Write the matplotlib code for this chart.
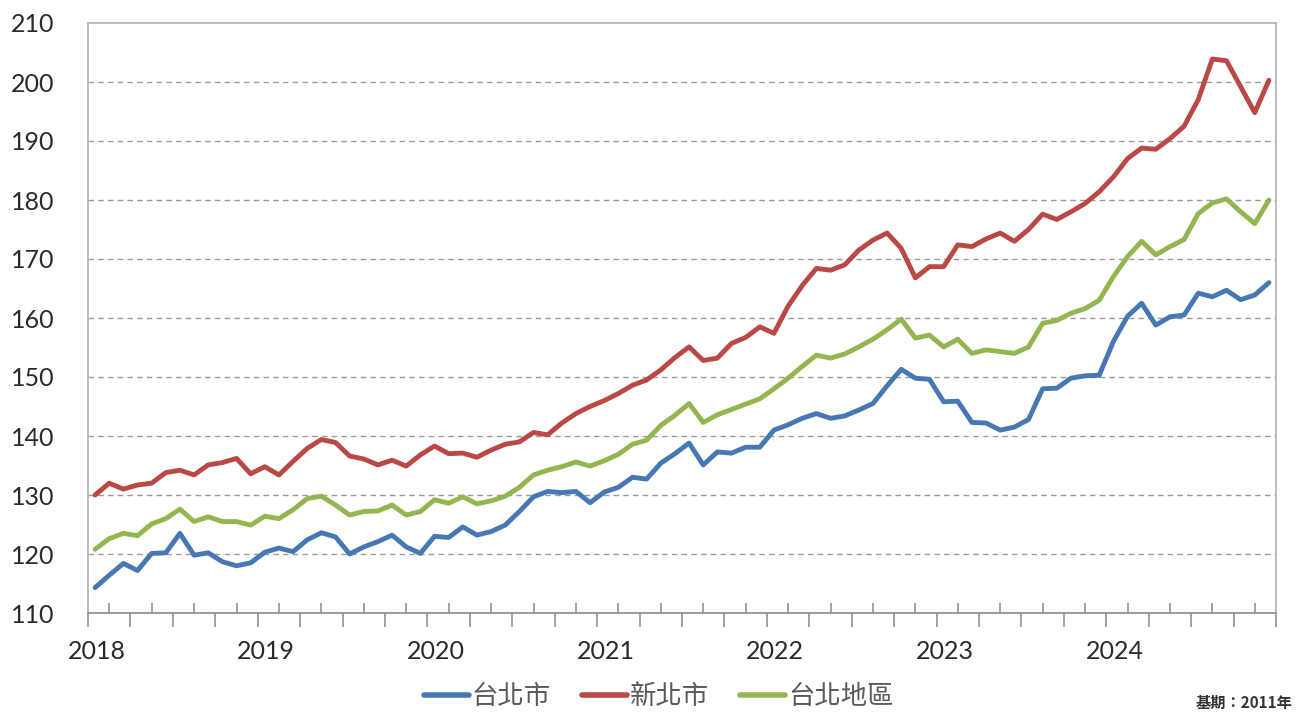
import matplotlib
matplotlib.use("Agg")
import matplotlib.pyplot as plt
import numpy as np

# ---- data (monthly index, 2018-01 .. 2024-12) ----
years = ["2018", "2019", "2020", "2021", "2022", "2023", "2024"]
series_names = ["台北市", "新北市", "台北地區"]

taipei = [114.3, 116.4, 118.4, 117.2, 120.1, 120.2, 123.5, 119.8, 120.2, 118.7, 118.0, 118.5,
          120.3, 121.0, 120.4, 122.4, 123.6, 122.9, 120.0, 121.2, 122.1, 123.2, 121.2, 120.1,
          123.0, 122.8, 124.6, 123.2, 123.8, 124.9, 127.2, 129.7, 130.6, 130.4, 130.6, 128.7,
          130.5, 131.3, 133.0, 132.7, 135.4, 137.0, 138.8, 135.1, 137.3, 137.1, 138.1, 138.1,
          141.0, 141.9, 143.0, 143.8, 143.0, 143.4, 144.4, 145.5, 148.5, 151.3, 149.8, 149.6,
          145.8, 145.9, 142.3, 142.2, 141.0, 141.5, 142.8, 148.0, 148.1, 149.8, 150.2, 150.3,
          156.0, 160.3, 162.5, 158.8, 160.2, 160.5, 164.2, 163.6, 164.7, 163.1, 163.9, 166.0]

new_taipei = [130.0, 132.0, 131.0, 131.7, 132.0, 133.8, 134.2, 133.4, 135.1, 135.5, 136.2, 133.6,
              134.8, 133.4, 135.7, 137.9, 139.4, 138.9, 136.6, 136.1, 135.1, 135.9, 134.9, 136.8,
              138.3, 137.0, 137.1, 136.4, 137.6, 138.6, 139.0, 140.6, 140.2, 142.2, 143.8, 145.0,
              146.0, 147.2, 148.6, 149.5, 151.2, 153.3, 155.1, 152.8, 153.2, 155.7, 156.7, 158.5,
              157.4, 162.0, 165.5, 168.4, 168.1, 169.0, 171.5, 173.2, 174.4, 171.8, 166.8, 168.7,
              168.7, 172.4, 172.1, 173.4, 174.4, 173.0, 175.0, 177.6, 176.7, 178.0, 179.4, 181.4,
              183.9, 187.0, 188.8, 188.6, 190.4, 192.5, 197.0, 203.9, 203.6, 199.2, 194.8, 200.3]

taipei_area = [120.8, 122.6, 123.5, 123.1, 125.1, 126.0, 127.6, 125.5, 126.3, 125.5, 125.5, 124.9,
               126.4, 126.0, 127.5, 129.4, 129.8, 128.3, 126.6, 127.2, 127.3, 128.3, 126.6, 127.2,
               129.2, 128.6, 129.7, 128.5, 129.0, 129.8, 131.3, 133.4, 134.2, 134.8, 135.6, 134.9,
               135.8, 136.9, 138.6, 139.3, 141.8, 143.5, 145.5, 142.3, 143.6, 144.5, 145.4, 146.3,
               148.0, 149.8, 151.8, 153.7, 153.2, 153.9, 155.1, 156.4, 158.0, 159.8, 156.6, 157.1,
               155.1, 156.4, 154.0, 154.6, 154.3, 154.0, 155.1, 159.1, 159.6, 160.8, 161.6, 163.0,
               167.0, 170.4, 173.0, 170.7, 172.1, 173.3, 177.7, 179.5, 180.2, 178.0, 176.0, 180.0]

colors = ["#4778B4", "#BA4946", "#94B650"]

# ---- figure ----
fig = plt.figure(figsize=(12.99, 7.17), dpi=100)
ax = fig.add_axes([88/1299, 1-613/717, (1276-88)/1299, (613-23)/717])

n = len(taipei)
x = np.arange(n) + 0.5
for vals, c, name in zip([taipei, new_taipei, taipei_area], colors, series_names):
    ax.plot(x, vals, color=c, lw=3.5, solid_joinstyle="round", solid_capstyle="round",
            label=name, zorder=3)

ax.set_xlim(0, n)
ax.set_ylim(110, 210)
ax.set_yticks(np.arange(110, 211, 10))

# horizontal dashed gridlines
for v in range(120, 210, 10):
    ax.axhline(v, color="#9a9a9a", lw=1.0, ls=(0, (4, 3)), zorder=1)

# spines
for s in ["left", "top", "right"]:
    ax.spines[s].set_color("#b0b0b0")
    ax.spines[s].set_linewidth(1.2)
ax.spines["bottom"].set_color("#8a8a8a")
ax.spines["bottom"].set_linewidth(1.2)

# x ticks: boundaries every 3 months (outward), mid ticks inward
ax.set_xticks(np.arange(0, n + 1, 3))
ax.set_xticks(np.arange(1.5, n, 3), minor=True)
ax.tick_params(axis="x", which="major", direction="out", length=10, width=1.1,
               color="#8a8a8a", labelbottom=False)
ax.tick_params(axis="x", which="minor", direction="in", length=7, width=1.1,
               color="#8a8a8a")
ax.tick_params(axis="y", length=0, pad=24, labelsize=18, labelcolor="#2a2a2a")
for lab in ax.get_yticklabels():
    lab.set_fontfamily(["Lato", "DejaVu Sans"])

# year labels
trans = ax.get_xaxis_transform()
for k, yr in enumerate(years):
    ax.text(k * 12 + 0.6, -0.065, yr, transform=trans, ha="center", va="center",
            fontsize=18, color="#2a2a2a", family=["Lato", "DejaVu Sans"])

# legend
leg = fig.legend(loc="center", bbox_to_anchor=(0.507, 0.028), ncol=3, frameon=False,
                 prop={"family": ["Noto Sans CJK TC", "DejaVu Sans"], "size": 19},
                 handlelength=1.7, handletextpad=0.1, columnspacing=1.2)
for t in leg.get_texts():
    t.set_color("#5a5a5a")
for h in leg.get_lines():
    h.set_linewidth(4)

fig.text(0.995, 0.02, "基期：2011年", ha="right", va="center", fontsize=11,
         color="#333333", family=["Noto Sans CJK TC", "DejaVu Sans"], fontweight="bold")

fig.savefig("out.png", dpi=100, facecolor="white")
